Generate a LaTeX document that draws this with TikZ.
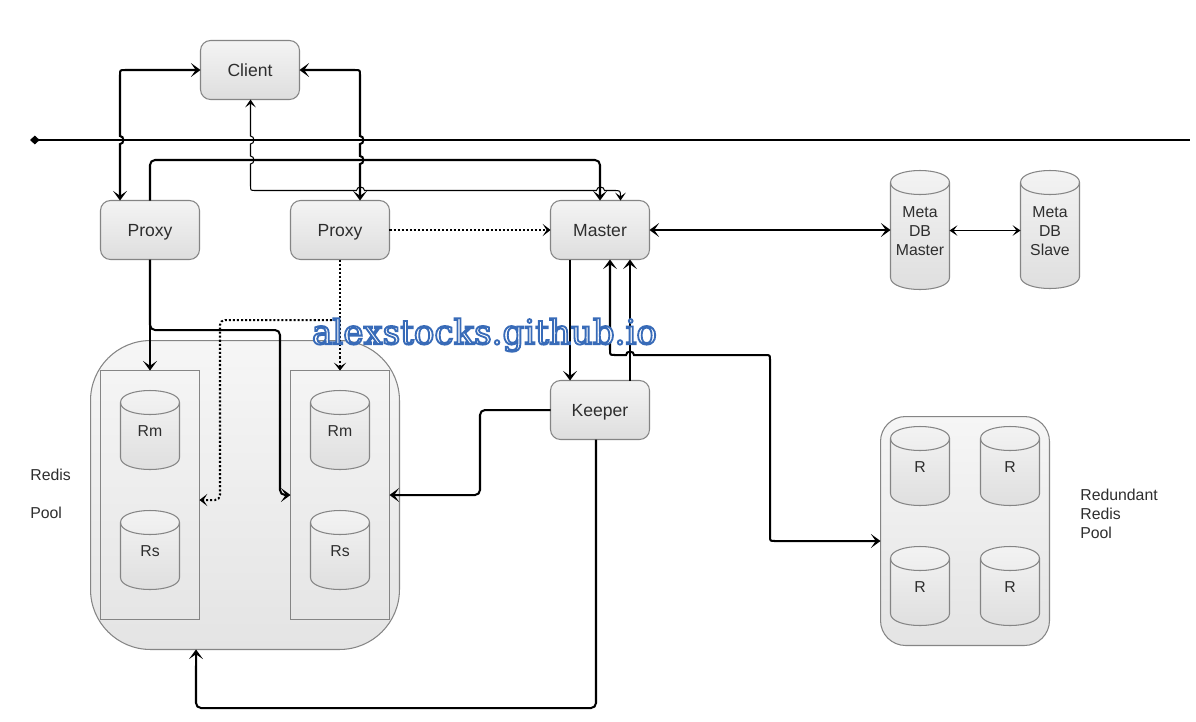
\documentclass[tikz,border=0pt]{standalone}
\usepackage{fontspec}
\setmainfont{Liberation Sans}
\newfontfamily\markfont{DejaVu Serif}
\usetikzlibrary{arrows.meta}
\definecolor{edgegray}{HTML}{858585}
\definecolor{textgray}{HTML}{2E2E2E}
\definecolor{fillhi}{HTML}{F4F4F4}
\definecolor{filllo}{HTML}{DEDEDE}
\definecolor{poolhi}{HTML}{F6F6F6}
\definecolor{poollo}{HTML}{E4E4E4}
% bumps where a line hops over another (x,y of the crossing)
\def\bumpdown#1#2{-- (#1,#2-4) .. controls (#1+4.5,#2-4) and (#1+4.5,#2+4) .. (#1,#2+4)}
\def\bumpright#1#2{-- (#1-4,#2) .. controls (#1-4,#2-4.5) and (#1+4,#2-4.5) .. (#1+4,#2)}
% cylinder: name, centre x, centre y, half height, text
\newcommand\cylnode[5]{%
  \path[draw=edgegray,line width=.6pt,top color=fillhi,bottom color=filllo]
    (#2-29.5,#3-#4+12) .. controls (#2-29.5,#3-#4-4) and (#2+29.5,#3-#4-4) .. (#2+29.5,#3-#4+12)
    -- (#2+29.5,#3+#4-12) .. controls (#2+29.5,#3+#4+4) and (#2-29.5,#3+#4+4) .. (#2-29.5,#3+#4-12) -- cycle;
  \draw[edgegray,line width=.6pt] (#2-29.5,#3-#4+12) .. controls (#2-29.5,#3-#4+28) and (#2+29.5,#3-#4+28) .. (#2+29.5,#3-#4+12);
  \node[cantext,minimum height=#4*0.04cm] (#1) at (#2,#3) {#5};
}
\tikzset{
  box/.style={draw=edgegray,line width=.6pt,rounded corners=.2cm,top color=fillhi,bottom color=filllo,
    minimum width=1.98cm,minimum height=1.18cm,inner sep=0pt,outer sep=0pt,text=textgray,
    text height=.9em,text depth=.2em,font=\fontsize{10}{12}\selectfont},
  pool/.style={draw=edgegray,line width=.6pt,top color=poolhi,bottom color=poollo,inner sep=0pt,outer sep=0pt},
  shard/.style={draw=edgegray,line width=.6pt,inner sep=0pt,outer sep=0pt,minimum width=1.98cm,minimum height=4.98cm},
  cantext/.style={minimum width=1.18cm,inner sep=0pt,outer sep=0pt,text=textgray,align=center,yshift=-.03cm,
    font=\fontsize{9}{10.8}\selectfont},
  lab/.style={text=textgray,font=\fontsize{9}{10.8}\selectfont,anchor=west,inner sep=0pt,align=left},
  bold/.style={line width=1.15pt,
    >={Stealth[length=5.5pt,width=8pt,inset=2.8pt]}},
  fine/.style={shift={(.5,.5)},line width=.6pt,
    >={Stealth[length=4.5pt,width=6pt,inset=2.2pt]}},
  dots/.style={line width=1.15pt,rounded corners=.1cm,dash pattern=on 1.15pt off 1.15pt,
    >={Stealth[length=4.5pt,width=7pt,inset=2.3pt]}},
}
\begin{document}
\begin{tikzpicture}[x=0.02cm,y=-0.02cm]
\useasboundingbox (0,0) rectangle (1196,721);
\fill[white] (0,0) rectangle (1196,721);
% boxes
\node[box] (client) at (250,70) {Client};
\node[box] (proxyA) at (150,230) {Proxy};
\node[box] (proxyB) at (340,230) {Proxy};
\node[box] (master) at (600,230) {Master};
\node[box] (keeper) at (600,410) {Keeper};
% pools
\node[pool,rounded corners=1.2cm,minimum width=6.18cm,minimum height=6.18cm] (redis) at (245,495) {};
\node[shard] (shardA) at (150,495) {};
\node[shard] (shardB) at (340,495) {};
\cylnode{rmA}{150}{430}{39.5}{Rm}
\cylnode{rsA}{150}{550}{39.5}{Rs}
\cylnode{rmB}{340}{430}{39.5}{Rm}
\cylnode{rsB}{340}{550}{39.5}{Rs}
\node[pool,rounded corners=.5cm,minimum width=3.38cm,minimum height=4.58cm] (spare) at (965,531) {};
\cylnode{rOne}{920}{466}{39.5}{R}
\cylnode{rTwo}{1010}{466}{39.5}{R}
\cylnode{rThree}{920}{586}{39.5}{R}
\cylnode{rFour}{1010}{586}{39.5}{R}
% meta db
\cylnode{metaM}{920}{230}{59.5}{Meta\\DB\\Master}
\cylnode{metaS}{1050}{229.5}{59}{Meta\\DB\\Slave}
% labels
\node[lab] (lredis) at (30,475) {Redis};
\node[lab] (lpool) at (30,513) {Pool};
\node[lab] (lspare) at (1080,514) {Redundant\\Redis\\Pool};
% horizontal rule
\coordinate (ruleL) at (30,140);
\coordinate (ruleR) at (1190,140);
\draw[line width=1.15pt,{Diamond[length=5.5pt,width=5pt]}-] (ruleL) -- (ruleR);
% connectors
\draw[bold,<->] (client.west) -- (125,70) .. controls (120,70) .. (120,75) \bumpdown{120}{140} -- ([xshift=-.6cm]proxyA.north);
\draw[bold,<->] (client.east) -- (355,70) .. controls (360,70) .. (360,75) \bumpdown{360}{140} \bumpdown{360}{160} -- ([xshift=.4cm]proxyB.north);
\draw[fine,<->] ([xshift=.01cm]client.south) \bumpdown{250}{139.5} \bumpdown{250}{159.5} -- (250,185) .. controls (250,190) .. (255,190)
  \bumpright{360}{190} \bumpright{600}{190} -- (613,190) .. controls (620,190) .. (620,196) -- ([xshift=.41cm]master.north);
\draw[bold,rounded corners=.1cm,->] (proxyA.north) -- (150,160) -- (600,160) -- (master.north);
\draw[dots,->] (proxyB.east) -- (master.west);
\draw[bold,<->] (master.east) -- (metaM.west |- master.east);
\draw[fine,<->] ([yshift=-.01cm]metaM.east |- master.east) -- ([yshift=-.01cm]metaS.west |- master.east);
\draw[bold,->] (proxyA.south) -- (shardA.north);
\draw[bold,rounded corners=.1cm,->] (proxyA.south) -- (150,330) -- (280,330) -- (280,495) -- (shardB.west);
\draw[dots,->] (proxyB.south) -- (shardB.north);
\draw[dots,->] (340,320) -- (220,320) -- (220,500) -- ([yshift=-.1cm]shardA.east);
\draw[bold,->] ([xshift=-.6cm]master.south) -- ([xshift=-.6cm]keeper.north);
\draw[bold,->] ([xshift=.6cm]keeper.north) -- ([xshift=.6cm]master.south);
\draw[bold,rounded corners=.1cm,->] (keeper.west) -- (480,410) -- (480,495) -- (shardB.east);
\draw[bold,rounded corners=.1cm,->] ([xshift=-.08cm]keeper.south) -- (596,708) -- (196,708) -- ([xshift=-.98cm]redis.south);
\draw[bold,<->] ([xshift=.2cm]master.south) -- (610,350) .. controls (610,355) .. (615,355) \bumpright{630}{355}
  -- (765,355) .. controls (770,355) .. (770,360) -- (770,536) .. controls (770,541) .. (775,541) -- ([yshift=-.2cm]spare.west);
% watermark
\node[inner sep=0pt,text=white] (mark) at (484.5,335) {\special{pdf:code 2 Tr 1.05 w 0.22 0.42 0.72 RG 1 1 1 rg}\markfont\fontsize{19.4}{22}\selectfont alexstocks.github.io};
\end{tikzpicture}
\end{document}
